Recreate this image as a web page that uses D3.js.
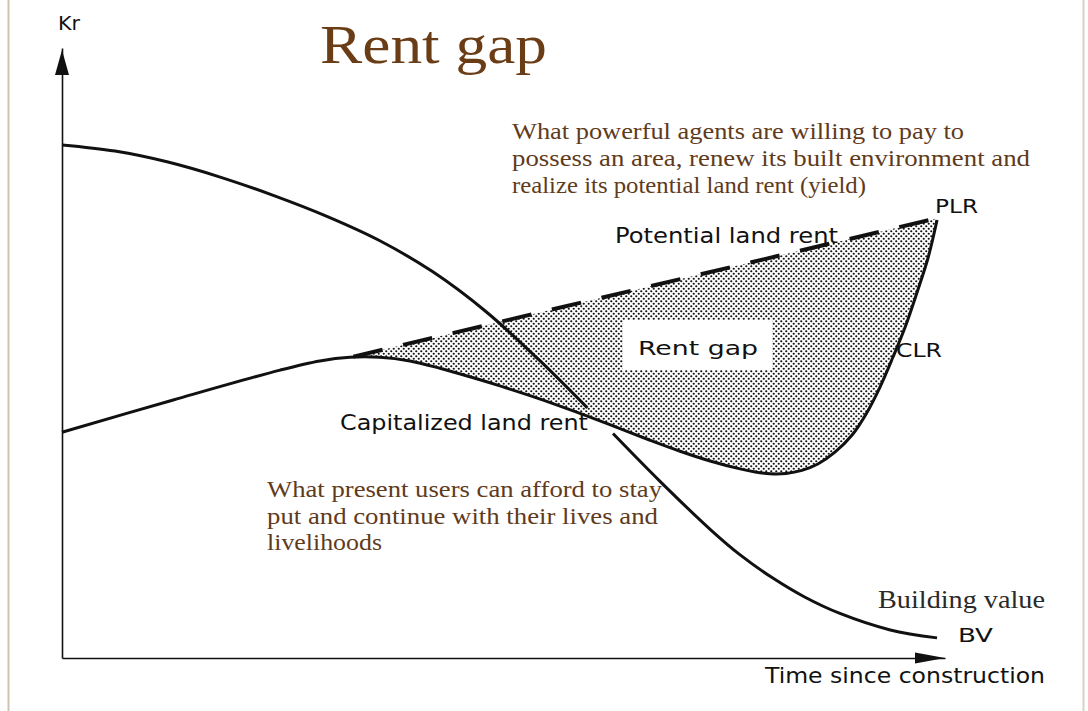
<!DOCTYPE html>
<html><head><meta charset="utf-8">
<script src="https://cdn.jsdelivr.net/npm/d3@7"></script>
<style>html,body{margin:0;padding:0;background:#fff;overflow:hidden}</style>
</head><body><svg id="c" width="1088" height="711"></svg>
<script>
// ---- data (time since construction 0..100, value 0..100) ----
const bvTime  = [0, 6, 12, 18, 24, 30, 36, 42, 48, 54, 59.5, 61.0, 62.4, 67.7, 73.4, 76.8, 80.5, 84.1, 88.1, 93.8, 99.1];
const bvValue = [84.1, 83.1, 81.3, 78.8, 75.8, 72.4, 68.4, 63.3, 56.8, 48.9, 41.0, null, 36.8, 29.0, 21.1, 16.9, 13.1, 10.0, 7.3, 4.6, 3.3];
const clrTime  = [0, 12.6, 24.7, 29.2, 32.6, 36.0, 39.4, 42.8, 46.2, 49.6, 53.0, 56.4, 59.8, 63.2, 66.6, 70.0, 73.4, 76.8, 78.5, 80.2, 82.0, 83.8, 85.6, 87.5, 89.5, 91.1, 92.6, 94.1, 95.5, 96.8, 98.1, 99.1];
const clrValue = [37.0, 42.3, 47.2, 48.7, 49.3, 49.3, 48.7, 47.5, 46.1, 44.6, 43.0, 41.3, 39.5, 37.6, 35.7, 33.9, 32.3, 31.0, 30.5, 30.2, 30.25, 30.75, 31.8, 33.7, 36.6, 40.1, 44.3, 49.3, 54.3, 59.8, 65.7, 71.8];
const plrTime  = [33.0, 99.1];
const plrValue = [49.4, 72.1];
const titleText = "Rent gap";
const topNote = ["What powerful agents are willing to pay to",
                 "possess an area, renew its built environment and",
                 "realize its potential land rent (yield)"];
const bottomNote = ["What present users can afford to stay",
                    "put and continue with their lives and",
                    "livelihoods"];

const svg = d3.select("#c");
const x = d3.scaleLinear().domain([0, 100]).range([62, 945]);
const y = d3.scaleLinear().domain([0, 100]).range([658, 48]);

const bv  = bvTime.map((t, i) => [t, bvValue[i]]);
const clr = clrTime.map((t, i) => [t, clrValue[i]]);
const plr = plrTime.map((t, i) => [t, plrValue[i]]);

const SANS = "'DejaVu Sans', Verdana, sans-serif";
const SERIF = "'Liberation Serif', 'Times New Roman', serif";
const BROWN = "#5f3b1c";

// page borders
svg.append("line").attr("x1", 8.5).attr("x2", 8.5).attr("y1", 0).attr("y2", 711)
  .attr("stroke", "#cdc5ae").attr("stroke-width", 2);
svg.append("line").attr("x1", 1083.5).attr("x2", 1083.5).attr("y1", 0).attr("y2", 711)
  .attr("stroke", "#d8d2c0").attr("stroke-width", 2);

// dot pattern
const defs = svg.append("defs");
const pat = defs.append("pattern").attr("id", "dots").attr("patternUnits", "userSpaceOnUse")
  .attr("width", 5).attr("height", 5);
pat.append("circle").attr("cx", 1.25).attr("cy", 1.25).attr("r", 1.1).attr("fill", "#111");
pat.append("circle").attr("cx", 3.75).attr("cy", 3.75).attr("r", 1.1).attr("fill", "#111");

const line = d3.line().x(d => x(d[0])).y(d => y(d[1])).curve(d3.curveCatmullRom.alpha(0.5))
  .defined(d => d[1] != null);

// clip: region above CLR
const clrPath = line(clr);
defs.append("clipPath").attr("id", "aboveClr").append("path")
  .attr("d", clrPath + `L${x(100)},0L${x(0)},0Z`);

// region below PLR (intersected with above CLR) = rent gap
const belowPlr = d3.area().x(d => x(d[0])).y0(y(0)).y1(d => y(d[1]));
svg.append("path").attr("d", belowPlr(plr)).attr("fill", "url(#dots)")
  .attr("clip-path", "url(#aboveClr)");

// axes
const yAxis = d3.axisLeft(y).ticks(0).tickSize(0).tickSizeOuter(0);
const xAxis = d3.axisBottom(x).ticks(0).tickSize(0).tickSizeOuter(0);
const gy = svg.append("g").attr("transform", `translate(${x(0)},0)`).call(yAxis);
const gx = svg.append("g").attr("transform", `translate(0,${y(0)})`).call(xAxis);
gy.select(".domain").attr("stroke", "#111").attr("stroke-width", 1.6);
gx.select(".domain").attr("stroke", "#111").attr("stroke-width", 1.6);
gy.selectAll("text").remove(); gx.selectAll("text").remove();

// arrowheads
const ax0 = x(0), ay0 = y(0);
svg.append("path").attr("d", `M${ax0},${y(100) + 2}L${ax0 - 7},${y(100) + 27}L${ax0 + 7},${y(100) + 27}Z`).attr("fill", "#111");
svg.append("path").attr("d", `M${x(100)},${ay0}L${x(100) - 30},${ay0 - 5.5}L${x(100) - 30},${ay0 + 5.5}Z`).attr("fill", "#111");

// curves
svg.append("path").attr("d", clrPath).attr("fill", "none").attr("stroke", "#111").attr("stroke-width", 3);
svg.append("path").attr("d", line(bv)).attr("fill", "none").attr("stroke", "#111").attr("stroke-width", 3);
svg.append("path").attr("d", d3.line().x(d => x(d[0])).y(d => y(d[1]))(plr))
  .attr("fill", "none").attr("stroke", "#111").attr("stroke-width", 4)
  .attr("stroke-dasharray", "30,21");

// white label box
svg.append("rect").attr("x", 623).attr("y", 320).attr("width", 149).attr("height", 50).attr("fill", "#fff");

function label(txt, px, py, size, len, family, fill) {
  const t = svg.append("text").attr("x", px).attr("y", py).text(txt)
    .attr("font-family", family).attr("font-size", size).attr("fill", fill);
  if (len) t.attr("textLength", len).attr("lengthAdjust", "spacingAndGlyphs");
  return t;
}

label("Kr", 58, 30, 20, 22, SANS, "#111");
label(titleText, 320, 63, 54, 227, SERIF, "#6b3d17");
const topLens = [452, 518, 354];
topNote.forEach((s, i) => label(s, 512, 139 + i * 27, 23, topLens[i], SERIF, BROWN));
const botLens = [395, 391, 115];
bottomNote.forEach((s, i) => label(s, 267, 497 + i * 26.5, 23, botLens[i], SERIF, BROWN));

label("Potential land rent", 615, 243, 22, 223, SANS, "#111");
label("Capitalized land rent", 340, 430, 22, 248, SANS, "#111");
label("Rent gap", 638, 355, 20, 120, SANS, "#111");
label("PLR", 935, 213, 20, 43, SANS, "#111");
label("CLR", 896, 357, 20, 46, SANS, "#111");
label("BV", 958, 642, 19, 35, SANS, "#111");
label("Building value", 878, 608, 25, 167, SERIF, "#2a2a2a");
label("Time since construction", 765, 683, 21, 280, SANS, "#111");
</script></body></html>
